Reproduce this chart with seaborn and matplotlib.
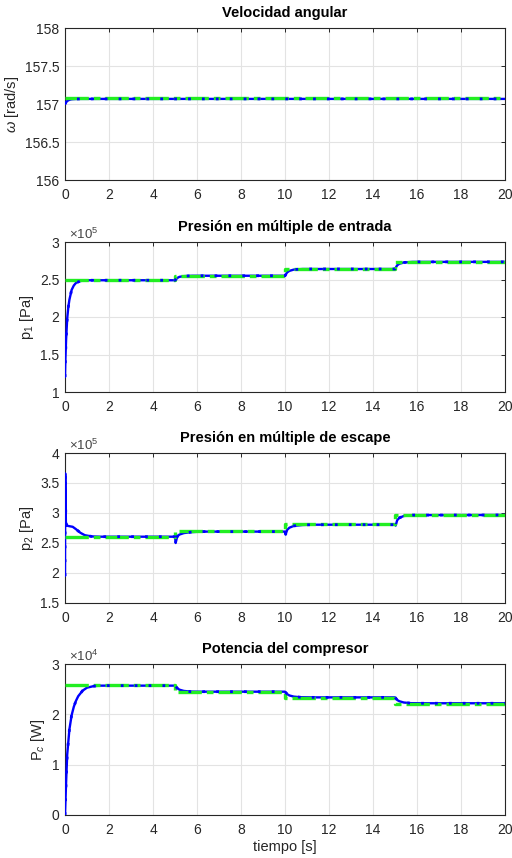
import numpy as np
import pandas as pd
import matplotlib
matplotlib.use("Agg")
import matplotlib.pyplot as plt
import seaborn as sns
from matplotlib.ticker import FuncFormatter, MultipleLocator

# ---------------- data ----------------
omega_t = [0, 0.05, 0.1, 0.2, 0.3, 0.5, 0.8, 20]
omega_val = [157.0, 157.025, 157.04, 157.055, 157.062, 157.066, 157.067, 157.067]
omega_ref_t = [0, 20]
omega_ref = [157.08, 157.08]

step_t = [0, 5, 10, 15, 20]

p1_t = [0, 0.005, 0.02, 0.05, 0.1, 0.15, 0.2, 0.3, 0.4, 0.5, 0.7, 1.0, 5.0, 5.1, 5.2,
        5.4, 5.8, 10.0, 10.1, 10.2, 10.4, 10.8, 15.0, 15.1, 15.2, 15.4, 15.8, 20]
p1_val = [1.20, 1.27, 1.45, 1.70, 1.98, 2.13, 2.23, 2.36, 2.42, 2.455, 2.48, 2.49, 2.49,
          2.52, 2.535, 2.545, 2.55, 2.55, 2.595, 2.615, 2.632, 2.64, 2.64, 2.69, 2.71,
          2.727, 2.735, 2.735]
p1_ref = [2.49, 2.55, 2.64, 2.735, 2.735]

p2_t = [0, 0.01, 0.04, 0.08, 0.2, 0.35, 0.5, 0.7, 0.9, 1.2, 1.6, 5.0, 5.03, 5.1, 5.2,
        5.4, 5.7, 6.2, 10.0, 10.03, 10.1, 10.2, 10.4, 10.8, 11.2, 15.0, 15.03, 15.1,
        15.2, 15.4, 15.8, 20]
p2_val = [1.95, 3.66, 2.85, 2.79, 2.78, 2.77, 2.73, 2.67, 2.63, 2.61, 2.605, 2.605,
          2.50, 2.61, 2.64, 2.665, 2.68, 2.69, 2.69, 2.645, 2.72, 2.755, 2.785, 2.80,
          2.805, 2.805, 2.79, 2.88, 2.92, 2.95, 2.965, 2.967]
p2_ref = [2.605, 2.70, 2.81, 2.975, 2.975]

pc_t = [0, 0.05, 0.1, 0.2, 0.3, 0.4, 0.5, 0.6, 0.8, 1.0, 1.3, 1.6, 5.0, 5.1, 5.2, 5.4,
        5.7, 6.2, 10.0, 10.1, 10.2, 10.4, 10.7, 11.2, 15.0, 15.1, 15.2, 15.4, 15.7,
        16.2, 20]
pc_val = [0, 0.65, 1.2, 1.7, 1.98, 2.15, 2.27, 2.36, 2.47, 2.53, 2.56, 2.57, 2.57,
          2.52, 2.49, 2.465, 2.452, 2.45, 2.45, 2.40, 2.375, 2.352, 2.34, 2.337, 2.337,
          2.285, 2.26, 2.235, 2.222, 2.22, 2.22]
pc_ref = [2.575, 2.44, 2.32, 2.21, 2.21]

titles = ["Velocidad angular", "Presión en múltiple de entrada",
          "Presión en múltiple de escape", "Potencia del compresor"]
ylabels = [r"$\omega$ [rad/s]", r"p$_1$ [Pa]", r"p$_2$ [Pa]", r"P$_c$ [W]"]
xlabel = "tiempo [s]"

# ---------------- style ----------------
sns.set_style("whitegrid")
plt.rcParams["font.family"] = ["Liberation Sans", "DejaVu Sans"]
plt.rcParams["mathtext.fontset"] = "custom"
plt.rcParams["mathtext.rm"] = "Liberation Sans"
plt.rcParams["mathtext.it"] = "Liberation Sans:italic"
plt.rcParams["mathtext.bf"] = "Liberation Sans:bold"

TXT = "#262626"
BLUE = "#0000FF"
GREEN = "#22EE22"

fig = plt.figure(figsize=(5.12, 8.58), dpi=100)
L, W = 65 / 512, 440 / 512
boxes = [(28, 180), (242, 392), (453, 603), (664, 815)]
axes = [fig.add_axes([L, 1 - b / 858, W, (b - t) / 858]) for t, b in boxes]

panels = [
    (omega_t, omega_val, omega_ref_t, omega_ref, 1.0, (156, 158), 0.5, None),
    (p1_t, p1_val, step_t, p1_ref, 1e5, (1e5, 3e5), 0.5e5, 5),
    (p2_t, p2_val, step_t, p2_ref, 1e5, (1.5e5, 4e5), 0.5e5, 5),
    (pc_t, pc_val, step_t, pc_ref, 1e4, (0, 3e4), 1e4, 4),
]

for i, (ax, (tt, vv, rt, rv, sc, ylim, ystep, expo)) in enumerate(zip(axes, panels)):
    df = pd.DataFrame({"t": tt, "v": np.array(vv) * sc})
    dr = pd.DataFrame({"t": rt, "v": np.array(rv) * sc})
    sns.lineplot(data=df, x="t", y="v", ax=ax, color=BLUE, lw=1.7,
                 estimator=None, sort=False, zorder=3)
    sns.lineplot(data=dr, x="t", y="v", ax=ax, color=GREEN, lw=2.4,
                 estimator=None, sort=False, drawstyle="steps-post",
                 linestyle=(0, (7, 1.5, 2, 1.5)), zorder=4)
    sns.lineplot(data=df, x="t", y="v", ax=ax, color=BLUE, lw=2.0,
                 estimator=None, sort=False, linestyle=(0, (1, 4)), zorder=5)

    ax.set_xlim(0, 20)
    ax.set_ylim(*ylim)
    ax.xaxis.set_major_locator(MultipleLocator(2))
    ax.yaxis.set_major_locator(MultipleLocator(ystep))
    if expo is None:
        ax.yaxis.set_major_formatter(FuncFormatter(lambda v, p: f"{v:g}"))
    else:
        ax.yaxis.set_major_formatter(
            FuncFormatter(lambda v, p, e=expo: f"{v / 10**e:g}"))
        ax.text(0.008, 1.0, r"$\times$10$^{%d}$" % expo, transform=ax.transAxes,
                ha="left", va="bottom", fontsize=9.5, color="#444444")
    ax.grid(True, color="#e3e3e3", lw=0.8)
    ax.set_axisbelow(True)
    for s in ax.spines.values():
        s.set_color(TXT)
        s.set_linewidth(0.8)
        s.set_visible(True)
    ax.tick_params(direction="in", top=True, right=True, length=3, width=0.7,
                   colors=TXT, labelsize=10)
    ax.tick_params(axis="x", pad=6)
    ax.tick_params(axis="y", pad=4)
    ax.set_title(titles[i], fontsize=10.5, fontweight="bold", color="black", pad=8)
    ax.set_ylabel(ylabels[i], fontsize=10.5, color=TXT, labelpad=3)
    ax.set_xlabel(xlabel if i == 3 else "", fontsize=10.5, color=TXT, labelpad=2)

fig.savefig("out.png", dpi=100)
